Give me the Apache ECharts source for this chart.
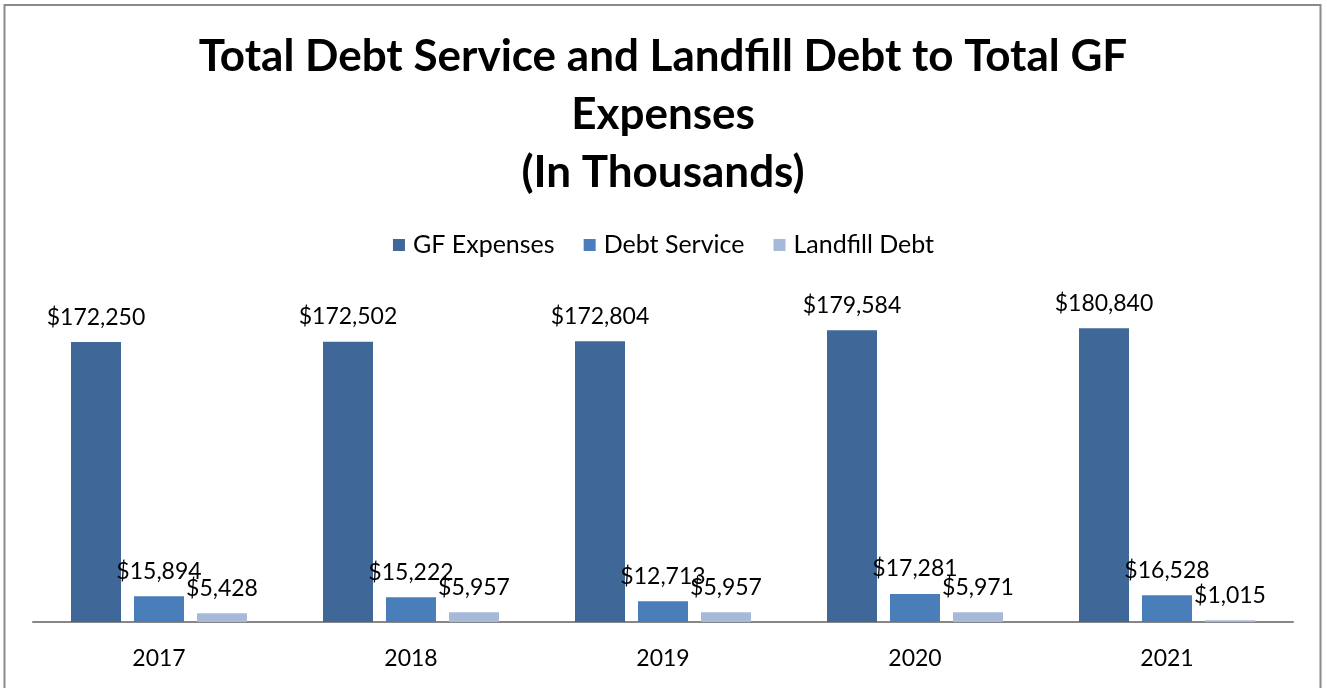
<!DOCTYPE html>
<html>
<head>
<meta charset="utf-8">
<script src="https://cdn.jsdelivr.net/npm/echarts@6/dist/echarts.min.js"></script>
<style>
  html, body { margin: 0; padding: 0; background: #ffffff; }
  #chart { width: 1327px; height: 688px; }
</style>
</head>
<body>
<div id="chart"></div>
<script>
// Fiscal years shown along the category axis
const years = ['2017', '2018', '2019', '2020', '2021'];

// Amounts in thousands of dollars
const gfExpenses = [172250, 172502, 172804, 179584, 180840];
const debtService = [15894, 15222, 12713, 17281, 16528];
const landfillDebt = [5428, 5957, 5957, 5971, 1015];

const titleLines = ['Total Debt Service and Landfill Debt to Total GF', 'Expenses', '(In Thousands)'];

const FONT = 'Lato, "Open Sans", sans-serif';

const money = v => '$' + v.toLocaleString('en-US');

const chart = echarts.init(document.getElementById('chart'), null, { renderer: 'canvas' });

const labelStyle = {
  show: true,
  position: 'top',
  distance: 12,
  color: '#000000',
  fontFamily: FONT,
  fontSize: 23,
  lineHeight: 26,
  formatter: p => money(p.value)
};

chart.setOption({
  animation: false,
  backgroundColor: '#ffffff',
  legend: {
    top: 226,
    left: 'center',
    itemWidth: 12,
    itemHeight: 12,
    itemGap: 29,
    icon: 'rect',
    textStyle: { fontFamily: FONT, fontSize: 25, lineHeight: 28, color: '#000000', padding: [0, 0, 0, 3] },
    data: ['GF Expenses', 'Debt Service', 'Landfill Debt']
  },
  grid: { left: 33, right: 34, top: 297, bottom: 66, containLabel: false },
  xAxis: {
    type: 'category',
    data: years,
    axisTick: { show: false },
    axisLine: { lineStyle: { color: '#868686', width: 2 } },
    axisLabel: { margin: 25, color: '#000000', fontFamily: FONT, fontSize: 23 }
  },
  yAxis: {
    type: 'value',
    min: 0,
    max: 200000,
    interval: 20000,
    show: false,
    splitLine: { show: false }
  },
  series: [
    {
      name: 'GF Expenses', type: 'bar', data: gfExpenses,
      barWidth: 50, barGap: '26%',
      itemStyle: { color: '#3F6797' },
      label: labelStyle
    },
    {
      name: 'Debt Service', type: 'bar', data: debtService,
      barWidth: 50, barGap: '26%',
      itemStyle: { color: '#4A7EBB' },
      label: labelStyle
    },
    {
      name: 'Landfill Debt', type: 'bar', data: landfillDebt,
      barWidth: 50, barGap: '26%',
      itemStyle: { color: '#A7B9D9' },
      label: labelStyle
    }
  ],
  graphic: [
    {
      type: 'text',
      silent: true,
      x: 663,
      y: 28,
      style: {
        text: titleLines.join('\n'),
        align: 'center',
        verticalAlign: 'top',
        fontFamily: FONT,
        fontWeight: 'bold',
        fontSize: 44,
        lineHeight: 58,
        fill: '#000000'
      }
    },
    {
      type: 'rect',
      silent: true,
      shape: { x: 4.5, y: 5, width: 1316, height: 720 },
      style: { fill: 'none', stroke: '#8a8a8a', lineWidth: 2 }
    }
  ]
});
</script>
</body>
</html>
